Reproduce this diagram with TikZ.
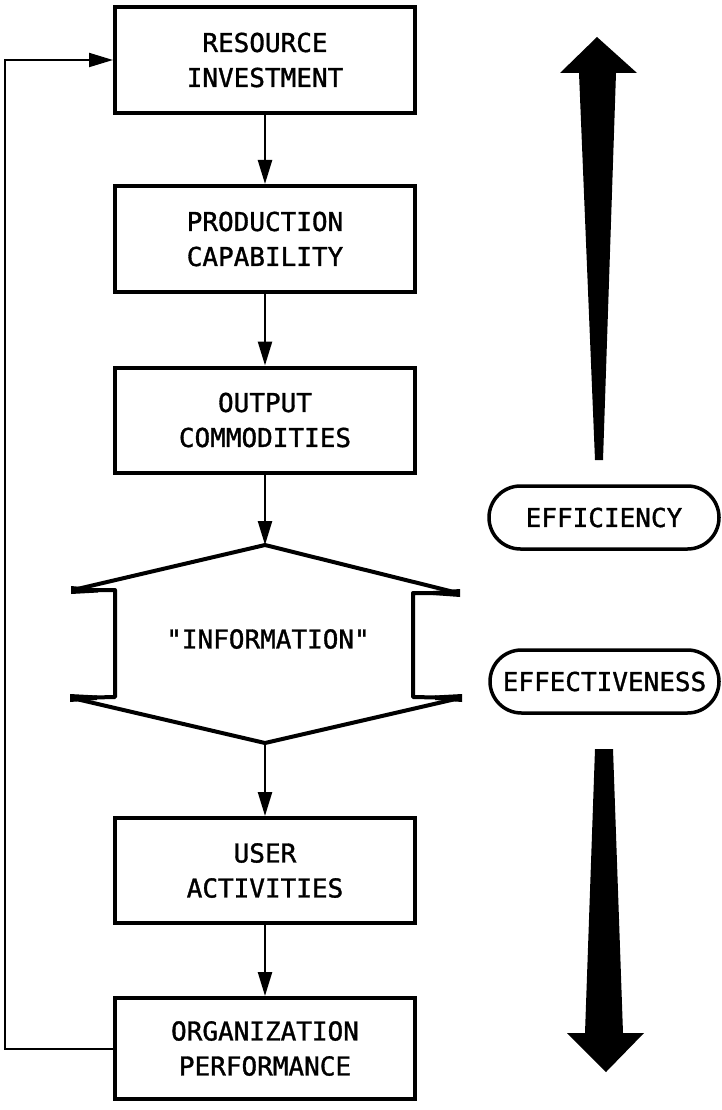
\documentclass[tikz,border=0pt]{standalone}
\usepackage{fontspec}
\newfontfamily\lgfont[FakeBold=1.3]{DejaVu Sans Mono}
\usetikzlibrary{arrows.meta,shapes.misc}
\begin{document}
\begin{tikzpicture}[x=1pt,y=-1pt,
  every node/.style={font=\lgfont\fontsize{26}{35}\selectfont, align=center, inner sep=0pt},
  procbox/.style={draw, line width=4pt, minimum width=300pt},
  pill/.style={draw, line width=3.5pt, rounded rectangle, minimum height=63pt},
  conn/.style={line width=2.4pt, -{Triangle[length=24pt,width=14pt]}},
  shapeline/.style={line width=4pt, line join=round, line cap=round}]
\useasboundingbox (0,0) rectangle (722,1110);

% process boxes
\node[procbox, minimum height=106pt] (res) at (265,60) {RESOURCE\\INVESTMENT};
\node[procbox, minimum height=106pt] (prod) at (265,239) {PRODUCTION\\CAPABILITY};
\node[procbox, minimum height=105pt] (out) at (265,420) {OUTPUT\\COMMODITIES};
\node[procbox, minimum height=105pt] (user) at (265,870.5) {USER\\ACTIVITIES};
\node[procbox, minimum height=101pt] (org) at (265,1048.5) {ORGANIZATION\\PERFORMANCE};

% information shape
\coordinate (itop) at (265,545);
\coordinate (ibot) at (265,743);
\draw[shapeline] (itop) -- (73,590) -- (115,590) -- (115,697) -- (72,698) -- (ibot)
  -- (460,698) -- (413,697) -- (413,593) -- (458,593) -- cycle;
\fill (71,586) -- (98,588.5) -- (98,592.5) -- (71,594) -- cycle;
\fill (70,694) -- (97,695.5) -- (97,700) -- (70,702) -- cycle;
\fill (460,589) -- (433,591) -- (433,595) -- (460,597) -- cycle;
\fill (462,694) -- (435,695.5) -- (435,700) -- (462,702) -- cycle;
\node (info) at (268,639) {"INFORMATION"};

% connectors
\draw[conn] (res.south) -- (prod.north);
\draw[conn] (prod.south) -- (out.north);
\draw[conn] (out.south) -- (itop);
\draw[conn] (ibot) -- (user.north);
\draw[conn] (user.south) -- (org.north);
\draw[conn, line width=2pt] (org.west) -- ++(-108,0) |- (res.west);

% pills
\node[pill, minimum width=230pt] (eff) at (604,517.5) {EFFICIENCY};
\node[pill, minimum width=229pt] (effv) at (604.5,681.5) {EFFECTIVENESS};

% big arrows
\fill (597,37) -- (637,73) -- (616,73) -- (603,460) -- (595,460) -- (579,73) -- (560,73) -- cycle;
\fill (595,749) -- (613,749) -- (623,1033) -- (644,1033) -- (606,1072) -- (567,1033) -- (585,1033) -- cycle;
\end{tikzpicture}
\end{document}
